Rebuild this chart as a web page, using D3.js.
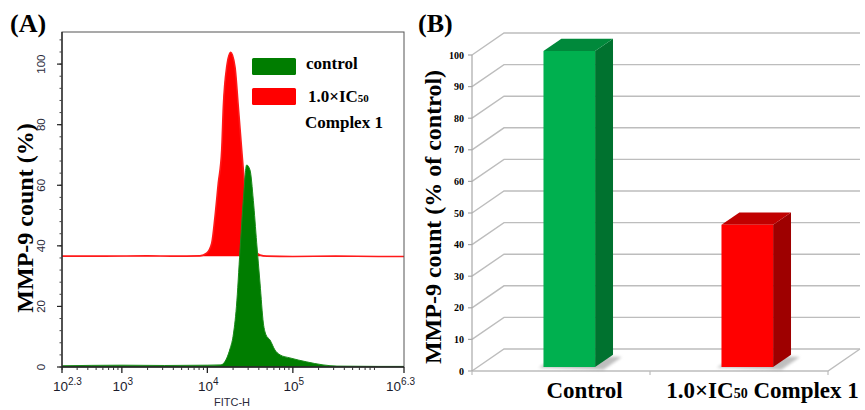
<!DOCTYPE html>
<html>
<head>
<meta charset="utf-8">
<script src="https://cdn.jsdelivr.net/npm/d3@7"></script>
<style>
  body { margin: 0; background: #fff; }
  svg { display: block; }
</style>
</head>
<body>
<svg id="chart" width="865" height="410"></svg>
<script>
// ---------- Panel A: MMP-9 flow cytometry histograms ----------
const fitcExpDomain = [2.3, 6.3];
const xTickExps = [2.3, 3, 4, 5, 6.3];
const xTickSups = ["2.3", "3", "4", "5", "6.3"];
const countTicks = [0, 20, 40, 60, 80, 100];

// treated sample (drawn with a vertical offset baseline)
const redExp   = [2.3, 2.8, 3.3, 3.6, 3.914, 3.992, 4.051, 4.089, 4.128, 4.168, 4.187, 4.226, 4.273, 4.323, 4.362, 4.402, 4.440, 4.479, 4.537, 4.616, 4.694, 5.0, 5.5, 6.0, 6.3];
const redCount = [36.6, 36.6, 36.7, 36.6, 36.7, 37.6, 40.9, 49.5, 60.7, 71.6, 85.9, 99.0, 103.9, 99.1, 85.9, 71.6, 58.4, 46.3, 39.7, 37.0, 36.6, 36.5, 36.6, 36.5, 36.5];

// control sample
const greenExp   = [2.3, 3.0, 3.5, 4.0, 4.16, 4.19, 4.265, 4.30, 4.34, 4.382, 4.42, 4.46, 4.499, 4.538, 4.577, 4.616, 4.655, 4.686, 4.733, 4.791, 4.85, 4.966, 5.16, 5.353, 5.516, 6.0, 6.3];
const greenCount = [0.4, 0.6, 0.5, 0.6, 0.7, 1.2, 6.0, 10.0, 19.9, 38.6, 55.0, 66.7, 65.0, 55.0, 41.0, 27.7, 14.5, 10.6, 8.9, 5.6, 4.0, 3.0, 1.7, 0.7, 0.3, 0.2, 0.2];

const legendLines = ["control", "1.0×IC50", "Complex 1"];

// ---------- Panel B: MMP-9 count as % of control ----------
const groups = ["Control", "1.0×IC50 Complex 1"];
const mmpPercent = [100, 45];
const pctTicks = d3.range(0, 101, 10);

const svg = d3.select("#chart");
const serif = "'Liberation Serif', 'Times New Roman', serif";
const sans = "'Liberation Sans', Arial, sans-serif";

// Renders text where "IC50" gets a small "50"
function richText(sel, str, subSize) {
  const parts = str.split(/(IC50)/);
  parts.forEach(p => {
    if (p === "IC50") {
      sel.append("tspan").text("IC");
      sel.append("tspan").attr("font-size", subSize).text("50");
    } else if (p.length) {
      sel.append("tspan").text(p);
    }
  });
}

// ===== Panel A =====
const A = { left: 62, right: 404, top: 32, bottom: 367 };
const xA = d3.scaleLog().domain(fitcExpDomain.map(e => Math.pow(10, e))).range([A.left, A.right]);
const yA = d3.scaleLinear().domain([0, 110.6]).range([A.bottom, A.top]);

const gA = svg.append("g");

const redPts = redExp.map((e, i) => [Math.pow(10, e), redCount[i]]);
const greenPts = greenExp.map((e, i) => [Math.pow(10, e), greenCount[i]]);
const redBase = redCount[0];

gA.append("path")
  .datum(redPts)
  .attr("fill", "#ff0000")
  .attr("d", d3.area().curve(d3.curveMonotoneX)
    .x(d => xA(d[0])).y0(yA(redBase)).y1(d => yA(d[1])));
gA.append("path")
  .datum(redPts)
  .attr("fill", "none").attr("stroke", "#ff1a1a").attr("stroke-width", 1.6)
  .attr("d", d3.line().curve(d3.curveMonotoneX).x(d => xA(d[0])).y(d => yA(d[1])));

gA.append("path")
  .datum(greenPts)
  .attr("fill", "#007d00")
  .attr("d", d3.area().curve(d3.curveMonotoneX)
    .x(d => xA(d[0])).y0(yA(0)).y1(d => yA(d[1])));
gA.append("path")
  .datum(greenPts)
  .attr("fill", "none").attr("stroke", "#1a8a1a").attr("stroke-width", 1)
  .attr("d", d3.line().curve(d3.curveMonotoneX).x(d => xA(d[0])).y(d => yA(d[1])));

// frame
gA.append("rect")
  .attr("x", A.left).attr("y", A.top)
  .attr("width", A.right - A.left).attr("height", A.bottom - A.top)
  .attr("fill", "none").attr("stroke", "#555").attr("stroke-width", 1);
gA.append("line").attr("x1", A.left).attr("x2", A.right).attr("y1", A.bottom).attr("y2", A.bottom)
  .attr("stroke", "#222").attr("stroke-width", 1.3);
gA.append("line").attr("x1", A.left).attr("x2", A.left).attr("y1", A.top).attr("y2", A.bottom)
  .attr("stroke", "#222").attr("stroke-width", 1.3);

// x minor ticks (log decades)
const minorX = [];
for (let k = 2; k <= 6; k++) for (let m = 2; m <= 9; m++) {
  const v = m * Math.pow(10, k);
  if (v > xA.domain()[0] && v < xA.domain()[1]) minorX.push(v);
}
gA.selectAll(".mxt").data(minorX).join("line")
  .attr("x1", d => xA(d)).attr("x2", d => xA(d))
  .attr("y1", A.bottom).attr("y2", A.bottom + 3)
  .attr("stroke", "#333").attr("stroke-width", 1);
gA.selectAll(".Mxt").data(xTickExps).join("line")
  .attr("x1", d => xA(Math.pow(10, d))).attr("x2", d => xA(Math.pow(10, d)))
  .attr("y1", A.bottom).attr("y2", A.bottom + 6)
  .attr("stroke", "#222").attr("stroke-width", 1.3);

// x tick labels 10^n
xTickExps.forEach((e, i) => {
  const x = xA(Math.pow(10, e));
  const t = gA.append("text")
    .attr("y", 391).attr("font-family", sans).attr("font-size", 13.5).attr("fill", "#1c1c2c");
  if (i === 0) t.attr("x", x - 9).attr("text-anchor", "start");
  else if (i === xTickExps.length - 1) t.attr("x", x + 11).attr("text-anchor", "end");
  else t.attr("x", x + 1).attr("text-anchor", "middle");
  t.append("tspan").text("10");
  t.append("tspan").attr("font-size", 10).attr("dy", -6).text(xTickSups[i]);
});

// y ticks
const minorY = d3.range(0, 110, 4);
gA.selectAll(".myt").data(minorY).join("line")
  .attr("x1", A.left - 2.5).attr("x2", A.left)
  .attr("y1", d => yA(d)).attr("y2", d => yA(d))
  .attr("stroke", "#444").attr("stroke-width", 1);
gA.selectAll(".Myt").data(countTicks).join("line")
  .attr("x1", A.left - 5).attr("x2", A.left)
  .attr("y1", d => yA(d)).attr("y2", d => yA(d))
  .attr("stroke", "#222").attr("stroke-width", 1.2);
gA.selectAll(".ytl").data(countTicks).join("text")
  .attr("transform", d => `translate(45,${yA(d)}) rotate(-90)`)
  .attr("text-anchor", "middle")
  .attr("font-family", sans).attr("font-size", 11.5).attr("fill", "#2a2a3a")
  .text(d => d);

// axis titles
gA.append("text")
  .attr("transform", "translate(33,218) rotate(-90)")
  .attr("text-anchor", "middle")
  .attr("font-family", serif).attr("font-weight", "bold").attr("font-size", 24)
  .text("MMP-9 count (%)");
gA.append("text")
  .attr("x", 232).attr("y", 406).attr("text-anchor", "middle")
  .attr("font-family", sans).attr("font-size", 11).attr("fill", "#2a2a3a")
  .text("FITC-H");
gA.append("text")
  .attr("x", 10).attr("y", 32)
  .attr("font-family", serif).attr("font-weight", "bold").attr("font-size", 26)
  .text("(A)");

// legend
const legend = gA.append("g");
legend.append("rect").attr("x", 252).attr("y", 58).attr("width", 44).attr("height", 17).attr("rx", 1.5)
  .attr("fill", "#007d00");
legend.append("rect").attr("x", 252).attr("y", 88).attr("width", 44).attr("height", 17).attr("rx", 1.5)
  .attr("fill", "#ff0000");
const legendPos = [[306, 69], [308, 102], [305, 128]];
legendLines.forEach((s, i) => {
  const t = legend.append("text")
    .attr("x", legendPos[i][0]).attr("y", legendPos[i][1])
    .attr("font-family", serif).attr("font-weight", "bold").attr("font-size", 17);
  richText(t, s, 11);
});

// ===== Panel B: 3-D column chart =====
const gB = svg.append("g");
const depthDx = 32, depthDy = 22;
const B = { left: 472, right: 828 };
const yB = d3.scaleLinear().domain([0, 100]).range([371, 55]);
const xB = d3.scaleBand().domain(groups).range([B.left, B.right])
  .paddingInner(0.71).paddingOuter(0.355).align(0.52);
const P = (x, v, d) => [x + d * depthDx, yB(v) - d * depthDy];
const gridCol = "#bdbdbd";

// back wall gridlines and left wall diagonals
pctTicks.forEach(v => {
  const a = P(B.left, v, 0), b = P(B.left, v, 1), c = P(B.right, v, 1);
  gB.append("polyline")
    .attr("points", [a, b, c].map(p => p.join(",")).join(" "))
    .attr("fill", "none").attr("stroke", gridCol).attr("stroke-width", 1.4);
});
// floor edges
{
  const f0 = P(B.left, 0, 0), f1 = P(B.right, 0, 0), f2 = P(B.right, 0, 1);
  gB.append("polyline")
    .attr("points", [f0, f1, f2].map(p => p.join(",")).join(" "))
    .attr("fill", "none").attr("stroke", gridCol).attr("stroke-width", 1.4);
}
// vertical value axis
gB.append("line")
  .attr("x1", B.left).attr("x2", B.left).attr("y1", yB(0)).attr("y2", yB(100))
  .attr("stroke", "#a8a8a8").attr("stroke-width", 1.2);
gB.selectAll(".bt").data(pctTicks).join("line")
  .attr("x1", B.left - 4).attr("x2", B.left)
  .attr("y1", d => yB(d)).attr("y2", d => yB(d))
  .attr("stroke", "#a8a8a8").attr("stroke-width", 1.2);
gB.selectAll(".btl").data(pctTicks).join("text")
  .attr("x", B.left - 8).attr("y", d => yB(d)).attr("dy", "0.35em")
  .attr("text-anchor", "end")
  .attr("font-family", serif).attr("font-weight", "bold").attr("font-size", 10)
  .text(d => d);
// category ticks
[B.left, (B.left + B.right) / 2, B.right].forEach(x => {
  gB.append("line").attr("x1", x).attr("x2", x).attr("y1", yB(0)).attr("y2", yB(0) + 4)
    .attr("stroke", gridCol).attr("stroke-width", 1.2);
});

// soft floor shadows
const defs = svg.append("defs");
defs.append("filter").attr("id", "soft").attr("x", "-50%").attr("y", "-50%").attr("width", "200%").attr("height", "200%")
  .append("feGaussianBlur").attr("stdDeviation", 1.6);

const d0 = 0.18, d1 = 0.74;
const barColors = [
  { front: "#00b04f", side: "#00722f", top: "#00893b" },
  { front: "#ff0000", side: "#9e0000", top: "#c00000" }
];
groups.forEach((g, i) => {
  const x0 = xB(g), x1 = x0 + xB.bandwidth();
  const sh = [P(x0 - 4, 0, d0 - 0.02), P(x1 + 12, 0, d0 - 0.12), P(x1 + 12, 0, d1 - 0.1), P(x0, 0, d1)];
  gB.append("polygon").attr("points", sh.map(p => p.join(",")).join(" "))
    .attr("fill", "#8a8a8a").attr("opacity", 0.55).attr("filter", "url(#soft)");
});
groups.forEach((g, i) => {
  const x0 = xB(g), x1 = x0 + xB.bandwidth(), v = mmpPercent[i], c = barColors[i];
  const poly = pts => pts.map(p => p.join(",")).join(" ");
  gB.append("polygon").attr("points", poly([P(x1, 0, d0), P(x1, 0, d1), P(x1, v, d1), P(x1, v, d0)]))
    .attr("fill", c.side);
  gB.append("polygon").attr("points", poly([P(x0, v, d0), P(x1, v, d0), P(x1, v, d1), P(x0, v, d1)]))
    .attr("fill", c.top);
  gB.append("polygon").attr("points", poly([P(x0, 0, d0), P(x1, 0, d0), P(x1, v, d0), P(x0, v, d0)]))
    .attr("fill", c.front);
});

// category labels
groups.forEach(g => {
  const t = gB.append("text")
    .attr("x", xB(g) + xB.bandwidth() / 2 + 21).attr("y", 398)
    .attr("text-anchor", "middle")
    .attr("font-family", serif).attr("font-weight", "bold").attr("font-size", 23);
  richText(t, g, 14);
});

gB.append("text")
  .attr("transform", "translate(441,217) rotate(-90)")
  .attr("text-anchor", "middle")
  .attr("font-family", serif).attr("font-weight", "bold").attr("font-size", 24)
  .text("MMP-9 count (% of control)");
gB.append("text")
  .attr("x", 418).attr("y", 32)
  .attr("font-family", serif).attr("font-weight", "bold").attr("font-size", 26)
  .text("(B)");
</script>
</body>
</html>
